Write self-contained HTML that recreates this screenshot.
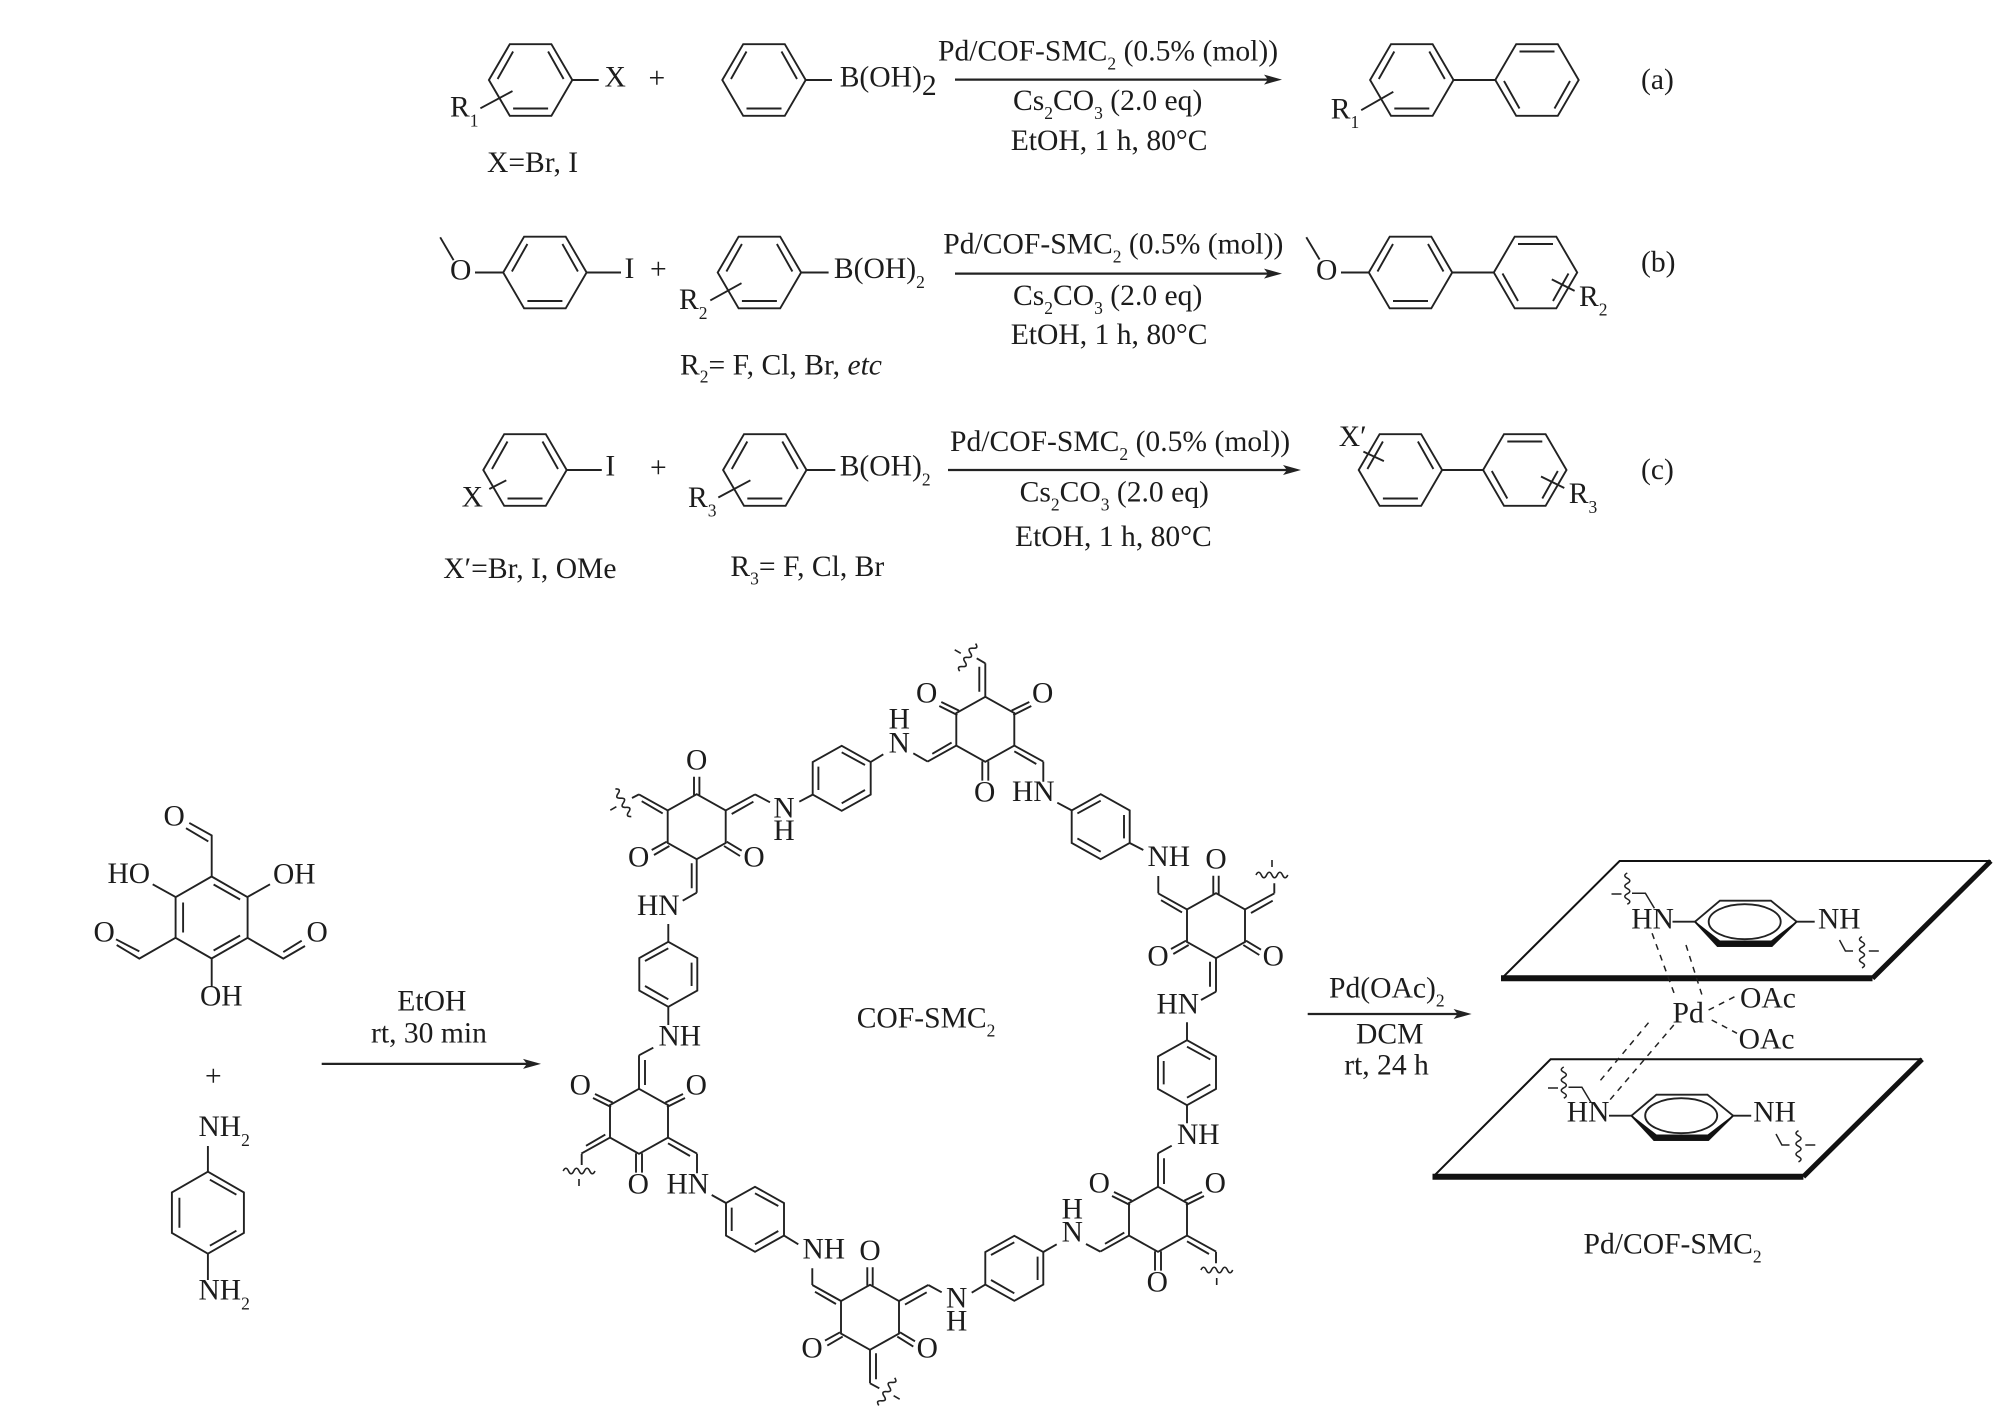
<!DOCTYPE html>
<html>
<head>
<meta charset="utf-8">
<title>Pd/COF-SMC2 scheme</title>
<style>
html,body{margin:0;padding:0;background:#fff}
svg{display:block}
text{font-family:"Liberation Serif",serif;fill:#1c1c1c}
.t{font-size:29.6px}
.c{font-size:29.5px}
.m{text-anchor:middle}
.s{font-size:17.5px}
.b{stroke:#222;stroke-width:1.9;fill:none}
.a{stroke:#222;stroke-width:2.2;fill:none}
.d{stroke:#222;stroke-width:1.5;fill:none;stroke-dasharray:6 5.5}
.k{stroke:#111;fill:none}
</style>
</head>
<body>
<svg width="2008" height="1419" viewBox="0 0 2008 1419" xmlns="http://www.w3.org/2000/svg">
<defs>
<g id="hA" class="b"><polygon points="-41.7,0 -20.8,-35.8 20.8,-35.8 41.7,0 20.8,35.8 -20.8,35.8"/><path d="M-33,-1L-17.5,-28.5M17.5,-28.5L33,-1M-17.5,28.5H17.5"/></g>
<g id="hB" class="b"><polygon points="-41.7,0 -20.8,-35.8 20.8,-35.8 41.7,0 20.8,35.8 -20.8,35.8"/><path d="M-17.5,-28.5H17.5M-33,1L-17.5,28.5M17.5,28.5L33,1"/></g>
<g id="big" class="b"><polygon points="0,-41 36,-20.3 36,20.3 0,41 -36,20.3 -36,-20.3"/><path d="M2,-33L28.5,-18M-28.5,-15V15M2,33L28.5,18"/></g>
<g id="p1" class="b"><polygon points="0,-32.5 29,-16.3 29,16.3 0,32.5 -29,16.3 -29,-16.3"/><path d="M0,-26L23.3,-13.3M-23.3,-11.7V11.7M0,25L23.3,11.7"/></g>
<g id="p2" class="b"><polygon points="0,-32.5 29,-16.3 29,16.3 0,32.5 -29,16.3 -29,-16.3"/><path d="M0,-26L-23.3,-13.3M23.3,-11.7V11.7M0,25L-23.3,11.7"/></g>
<g id="qa" class="b"><polygon points="0,-32.5 29,-16.3 29,16.3 0,32.5 -29,16.3 -29,-16.3"/><path d="M-28,-14.3L-46,-23.3M-26.3,-18.7L-44,-27.3M28,-14.3L46,-23.3M26.3,-18.7L44,-27.3M-3,32V51.3M3,32V51.3M-29,16.3L-57.7,32.3M-33.7,13.3L-53,24.5M29,16.3L58,32.3M29,22L51,34.7M0,-32.5V-66"/></g>
<g id="qb" class="b"><polygon points="0,-32.5 29,-16.3 29,16.3 0,32.5 -29,16.3 -29,-16.3"/><path d="M-2.7,-31.7V-50M2.7,-31.7V-50M-45,23.3L-30,15M-42.7,28.3L-27.3,19.3M30,15L45,24M27.3,19.3L43.3,29.3M-29,-16.3L-57.7,-32.3M-34,-13.3L-55,-25.5M29,-16.3L58.3,-32.3M35,-12.7L56.7,-25M0,32.5V66"/></g>
<g id="wv" class="b" style="stroke-width:1.6"><path d="M-16,0q2.7,-5.5 5.3,0t5.3,0t5.3,0t5.3,0t5.3,0t5.3,0M0,-15V-8"/></g>
<g id="pl" class="b">
<polygon points="1695,921.7 1719.9,900.7 1770.9,900.7 1796.6,921.7 1771.8,946 1717.6,946"/>
<ellipse cx="1744.7" cy="921.7" rx="36" ry="17.5"/>
<polygon points="1695,921.7 1717.6,946 1771.8,946 1796.6,921.7 1771.3,941 1719.9,941" fill="#111" stroke="#111" stroke-width="1"/>
<path d="M1672.5,921.7H1695M1796.6,921.7H1814.7"/>
<path style="stroke-width:1.5" d="M1627.3,873q-5,2.6 0,5.2t0,5.2t0,5.2t0,5.2t0,5.2t0,5.2M1611.5,894H1621.5M1632,893.3H1645.4L1654.4,908.3M1839.5,940L1845.4,951H1853M1862,936.7q-5,2.6 0,5.2t0,5.2t0,5.2t0,5.2t0,5.2t0,5.2M1868.8,951H1878.8"/>
</g>
</defs>
<rect width="2008" height="1419" fill="#fff"/>

<!-- Reaction (a) -->
<use href="#hA" x="530.6" y="80"/>
<use href="#hA" x="764" y="80"/>
<use href="#hA" x="1411.8" y="80"/>
<use href="#hB" x="1537" y="80"/>
<path class="b" d="M571.9,80H598.7M805.8,80H832M480.4,108.3L512.5,91.1M1453.6,80H1495.5M1361.2,110.2L1393.3,91.8"/>
<text class="t" x="604.5" y="86.5">X</text>
<text class="t" x="648.5" y="87.5">+</text>
<text class="t" x="839.7" y="86.5">B(OH)<tspan dy="8.4">2</tspan></text>
<text class="t" x="450" y="116.7">R<tspan class="s" dy="9.6">1</tspan></text>
<text class="t" x="487" y="172.2">X=Br, I</text>
<path class="a" d="M955,79.6H1270"/><polygon points="1282,79.6 1264,74.6 1268,79.6 1264,84.6" fill="#222"/>
<text class="t" x="938" y="60.5">Pd/COF-SMC<tspan class="s" dy="9">2</tspan><tspan dy="-9"> (0.5% (mol))</tspan></text>
<text class="t" x="1013" y="110.2">Cs<tspan class="s" dy="9">2</tspan><tspan dy="-9">CO</tspan><tspan class="s" dy="9">3</tspan><tspan dy="-9"> (2.0 eq)</tspan></text>
<text class="t" x="1010.7" y="150">EtOH, 1 h, 80°C</text>
<text class="t" x="1330.8" y="118.6">R<tspan class="s" dy="9.6">1</tspan></text>
<text class="t" x="1641" y="88.8">(a)</text>

<!-- Reaction (b) -->
<use href="#hA" x="544.9" y="272.5"/>
<use href="#hA" x="759.4" y="272.5"/>
<use href="#hA" x="1410.5" y="272.5"/>
<use href="#hB" x="1535.5" y="272.5"/>
<path class="b" d="M440.2,237.3L453.6,260.2M475,272.5H503.6M586,272.5H621M800.9,272.5H828.6M710.3,300.4L741.5,283.2M1306.3,237.3L1319.6,259.5M1341,272.5H1369.2M1451.8,272.5H1494.2M1551.8,279.4L1574.6,290.9"/>
<text class="t" x="450" y="279.4">O</text>
<text class="t" x="624.5" y="278.2">I</text>
<text class="t" x="650" y="278.5">+</text>
<text class="t" x="833.9" y="278.2">B(OH)<tspan class="s" dy="9.6">2</tspan></text>
<text class="t" x="679" y="309.2">R<tspan class="s" dy="9.6">2</tspan></text>
<text class="t" x="680" y="374.3">R<tspan class="s" dy="8.4">2</tspan><tspan dy="-8.4">= F, Cl, Br, </tspan><tspan font-style="italic">etc</tspan></text>
<path class="a" d="M955,273.6H1270"/><polygon points="1282,273.6 1264,268.6 1268,273.6 1264,278.6" fill="#222"/>
<text class="t" x="943.3" y="253.3">Pd/COF-SMC<tspan class="s" dy="9">2</tspan><tspan dy="-9"> (0.5% (mol))</tspan></text>
<text class="t" x="1013" y="305">Cs<tspan class="s" dy="9">2</tspan><tspan dy="-9">CO</tspan><tspan class="s" dy="9">3</tspan><tspan dy="-9"> (2.0 eq)</tspan></text>
<text class="t" x="1010.7" y="344">EtOH, 1 h, 80°C</text>
<text class="t" x="1316" y="279.4">O</text>
<text class="t" x="1579" y="306">R<tspan class="s" dy="9.6">2</tspan></text>
<text class="t" x="1641" y="271.7">(b)</text>

<!-- Reaction (c) -->
<use href="#hA" x="525" y="470"/>
<use href="#hA" x="764.8" y="470"/>
<use href="#hA" x="1400.4" y="470"/>
<use href="#hB" x="1524.8" y="470"/>
<path class="b" d="M566.5,470H601.8M806.3,470H835.3M489.3,489L506.3,480.3M718.3,497.5L750.4,480.3M1442,470H1483M1363.4,451.6L1383.9,461.1M1541,476.5L1564.3,488"/>
<text class="t" x="605.4" y="475.7">I</text>
<text class="t" x="650" y="477">+</text>
<text class="t" x="461.6" y="506.3">X</text>
<text class="t" x="839.7" y="475.7">B(OH)<tspan class="s" dy="9.6">2</tspan></text>
<text class="t" x="688" y="507">R<tspan class="s" dy="9.6">3</tspan></text>
<text class="t" x="443.3" y="577.9">X′=Br, I, OMe</text>
<text class="t" x="730.4" y="576">R<tspan class="s" dy="8.4">3</tspan><tspan dy="-8.4">= F, Cl, Br</tspan></text>
<path class="a" d="M948,470H1289"/><polygon points="1301,470 1283,465 1287,470 1283,475" fill="#222"/>
<text class="t" x="950" y="450.8">Pd/COF-SMC<tspan class="s" dy="9">2</tspan><tspan dy="-9"> (0.5% (mol))</tspan></text>
<text class="t" x="1019.6" y="501.3">Cs<tspan class="s" dy="9">2</tspan><tspan dy="-9">CO</tspan><tspan class="s" dy="9">3</tspan><tspan dy="-9"> (2.0 eq)</tspan></text>
<text class="t" x="1015" y="546.1">EtOH, 1 h, 80°C</text>
<text class="t" x="1338.8" y="445.8">X′</text>
<text class="t" x="1568.8" y="503.2">R<tspan class="s" dy="9.6">3</tspan></text>
<text class="t" x="1641" y="479.1">(c)</text>

<!-- Monomers -->
<use href="#big" x="211.6" y="917.5"/>
<path class="b" d="M211.7,876.4V835.4L189.3,822.9M208.3,841.4L186,828.2M175.7,897.1L152.7,884.3M247.3,897.1L270,884.3M175.7,937.7L139.3,958.6L116.7,945M139.3,951.4L116,939.3M247.3,937.7L283.3,958.6L305,946M283.3,952.1L301.7,940.7M211.7,958.6V986.4"/>
<text class="c" x="163.5" y="825.4">O</text>
<text class="c" x="107.5" y="882.9">HO</text>
<text class="c" x="273" y="883.6">OH</text>
<text class="c" x="93.5" y="941.4">O</text>
<text class="c" x="306.5" y="941.4">O</text>
<text class="c" x="200" y="1005.7">OH</text>
<text class="c" x="205" y="1085.5">+</text>
<text class="c" x="198.5" y="1136">NH<tspan class="s" dy="10">2</tspan></text>
<use href="#big" x="207.9" y="1212.7"/>
<path class="b" d="M207.9,1146V1172M207.9,1253.2V1280"/>
<text class="c" x="198.5" y="1299.6">NH<tspan class="s" dy="10">2</tspan></text>
<path class="a" d="M321.7,1063.9H530"/><polygon points="541,1063.9 523,1058.9 527,1063.9 523,1068.9" fill="#222"/>
<text class="t" x="397.3" y="1010.4">EtOH</text>
<text class="t" x="371" y="1042.5">rt, 30 min</text>

<!-- COF rings -->
<use href="#qb" x="696.7" y="826.7"/>
<use href="#qa" x="985.3" y="729.3"/>
<use href="#qb" x="1216" y="925.7"/>
<use href="#qa" x="639" y="1121.3"/>
<use href="#qb" x="870" y="1317.3"/>
<use href="#qa" x="1158" y="1219.3"/>
<use href="#p2" x="668.3" y="974.3"/>
<use href="#p1" x="841.7" y="778.3"/>
<use href="#p2" x="1100.7" y="826.7"/>
<use href="#p1" x="1187" y="1072.7"/>
<use href="#p1" x="755" y="1219.3"/>
<use href="#p2" x="1014.3" y="1268.3"/>
<path class="b" d="M979.3,691.7V666.7M645,1085V1060M1164,1184V1158.3M691.7,863.3V888.3M1210,961.7V986.7M876,1353.3V1379.3
M696.7,892.7L682.7,900.7M668.3,924V941.8M668.3,1006.8V1025M653.3,1047.7L639,1055.3M697,1153.6V1173.3M711.7,1195L726,1203M784,1235.6L798.3,1244.3M812.3,1268.3V1285
M928.3,1285L941.7,1292.3M971.7,1292.7L985.3,1284.6M1043.3,1252L1056.7,1244.3M1086,1244L1100.3,1251.6M1158,1153.3L1171.7,1145.7M1187,1123.3V1105.2M1187,1040.2V1022.3M1216,991.7L1201,1000
M1158.3,893.4V876M1143.3,850L1129.7,843M1071.7,810.4L1057.3,802.7M1043.3,761.6V781.7M927.7,761.6L913.3,753.3M883.3,754.3L870.7,762M812.7,794.6L799.3,801.7M770,802.3L755,794.4
M985.3,663.3L976.7,658.3M639,794.4L632,798M870,1383.3L879.3,1388.3M1274.3,893.4V883.3M581.7,1154V1165M1216,1251.7V1263.3"/>
<use href="#wv" transform="translate(1272 875)"/>
<use href="#wv" transform="translate(579 1171) rotate(180)"/>
<use href="#wv" transform="translate(1216.7 1270) rotate(180)"/>
<use href="#wv" transform="translate(967.7 657.3) rotate(-60)"/>
<use href="#wv" transform="translate(623.3 802.7) rotate(-120)"/>
<use href="#wv" transform="translate(886.7 1391.7) rotate(120)"/>

<text class="c m" x="696.7" y="769.4">O</text>
<text class="c m" x="638.7" y="866.7">O</text>
<text class="c m" x="754" y="866.7">O</text>
<text class="c m" x="926.6" y="702.6">O</text>
<text class="c m" x="1042.6" y="702.6">O</text>
<text class="c m" x="984.6" y="801.6">O</text>
<text class="c m" x="1216" y="868.4">O</text>
<text class="c m" x="1158" y="965.7">O</text>
<text class="c m" x="1273.3" y="965.7">O</text>
<text class="c m" x="580.3" y="1094.6">O</text>
<text class="c m" x="696.3" y="1094.6">O</text>
<text class="c m" x="638.3" y="1193.6">O</text>
<text class="c m" x="870" y="1260">O</text>
<text class="c m" x="812" y="1357.3">O</text>
<text class="c m" x="927.3" y="1357.3">O</text>
<text class="c m" x="1099.3" y="1192.6">O</text>
<text class="c m" x="1215.3" y="1192.6">O</text>
<text class="c m" x="1157.3" y="1291.6">O</text>

<text class="c" x="637" y="915">HN</text>
<text class="c" x="658.5" y="1045.7">NH</text>
<text class="c" x="666.5" y="1193.3">HN</text>
<text class="c" x="802.5" y="1258.3">NH</text>
<text class="c m" x="956.7" y="1307.3">N</text>
<text class="c m" x="956.7" y="1330.7">H</text>
<text class="c m" x="1072.3" y="1241.7">N</text>
<text class="c m" x="1072.3" y="1218.3">H</text>
<text class="c" x="1177" y="1144">NH</text>
<text class="c" x="1156.5" y="1013.3">HN</text>
<text class="c" x="1147.5" y="866">NH</text>
<text class="c" x="1012" y="801">HN</text>
<text class="c m" x="899.3" y="752.3">N</text>
<text class="c m" x="899.3" y="728.3">H</text>
<text class="c m" x="784" y="817.3">N</text>
<text class="c m" x="784" y="840">H</text>
<text class="t" x="856.7" y="1027.3">COF-SMC<tspan class="s" dy="9">2</tspan></text>

<!-- Pd(OAc)2 arrow -->
<path class="a" d="M1307.7,1014H1460"/><polygon points="1471.6,1014 1453.6,1009 1457.6,1014 1453.6,1019" fill="#222"/>
<text class="t" x="1329" y="997.7">Pd(OAc)<tspan class="s" dy="9">2</tspan></text>
<text class="t" x="1356" y="1043.3">DCM</text>
<text class="t" x="1344.2" y="1074.3">rt, 24 h</text>

<!-- Planes -->
<path class="k" stroke-width="2" d="M1501.8,978.3L1619.6,861H1990.8"/>
<path class="k" stroke-width="6" d="M1501,978.3H1872.5"/>
<path class="k" stroke-width="5" d="M1872.5,978.3L1990.8,861"/>
<path class="k" stroke-width="2" d="M1433.2,1176.7L1550.6,1059.3H1922.1"/>
<path class="k" stroke-width="6" d="M1432.5,1176.7H1803.4"/>
<path class="k" stroke-width="5" d="M1803.4,1176.7L1922.1,1059.3"/>
<use href="#pl"/>
<use href="#pl" transform="translate(-63.5 194)"/>
<text class="c" x="1631.3" y="928.3">HN</text>
<text class="c" x="1818" y="928.3">NH</text>
<text class="c" x="1566.8" y="1121.7">HN</text>
<text class="c" x="1753.3" y="1121.7">NH</text>
<path class="d" d="M1652.1,933.3L1675.6,997.3M1686,945L1702.7,997.3M1708.6,1010L1738,995M1711.7,1020L1737,1033.3M1648.5,1022.7L1598,1083.3M1673.8,1025L1607,1103.3"/>
<text class="t" x="1672.5" y="1022.7">Pd</text>
<text class="t" x="1740" y="1007.7">OAc</text>
<text class="t" x="1738.6" y="1048.3">OAc</text>
<text class="t" x="1583.5" y="1253.3">Pd/COF-SMC<tspan class="s" dy="9">2</tspan></text>
</svg>
</body>
</html>
